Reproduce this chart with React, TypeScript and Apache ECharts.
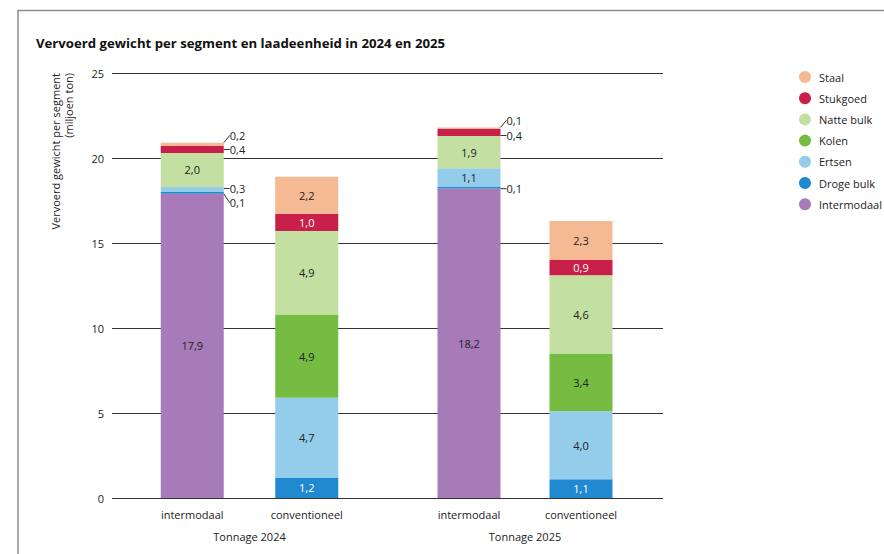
import React, { useEffect, useRef } from "react";
import * as echarts from "echarts";

// ---------- data ----------
const title = "Vervoerd gewicht per segment en laadeenheid in 2024 en 2025";
const yAxisName = "Vervoerd gewicht per segment\n(miljoen ton)";
const groups = ["Tonnage 2024", "Tonnage 2025"];
const barCategories = ["intermodaal", "conventioneel"];
// columns: 2024 intermodaal, 2024 conventioneel, 2025 intermodaal, 2025 conventioneel
const intermodaal = [17.9, 0, 18.2, 0];
const drogeBulk = [0.1, 1.2, 0.1, 1.1];
const ertsen = [0.3, 4.7, 1.1, 4.0];
const kolen = [0, 4.9, 0, 3.4];
const natteBulk = [2.0, 4.9, 1.9, 4.6];
const stukgoed = [0.4, 1.0, 0.4, 0.9];
const staal = [0.2, 2.2, 0.1, 2.3];
const yMin = 0;
const yMax = 25;
const yInterval = 5;

// stacking order bottom -> top
const segments: { name: string; values: number[] }[] = [
  { name: "Intermodaal", values: intermodaal },
  { name: "Droge bulk", values: drogeBulk },
  { name: "Ertsen", values: ertsen },
  { name: "Kolen", values: kolen },
  { name: "Natte bulk", values: natteBulk },
  { name: "Stukgoed", values: stukgoed },
  { name: "Staal", values: staal },
];

// ---------- styles / layout ----------
const COLORS: Record<string, string> = {
  Intermodaal: "#a67bb7",
  "Droge bulk": "#2189cf",
  Ertsen: "#93cdea",
  Kolen: "#76bc43",
  "Natte bulk": "#c4dfa2",
  Stukgoed: "#c9204b",
  Staal: "#f5b993",
};
const WHITE_LABEL = new Set(["Stukgoed", "Droge bulk"]);
// vertical shift of outside labels (per column)
const OUT_DY: Record<string, Record<number, number>> = {
  Staal: { 0: -9, 2: -8 },
  Stukgoed: { 0: 0, 2: 3 },
  Ertsen: { 0: -1 },
  "Droge bulk": { 0: 10, 2: 1 },
};
const FONT = "Open Sans";
const TOP = 73;
const BOTTOM = 56;
const GRID_GROUPS = [
  { left: 135, width: 229 },
  { left: 413, width: 224 },
];

const fmt = (v: number) => v.toFixed(1).replace(".", ",");

export default function App() {
  const ref = useRef<HTMLDivElement>(null);
  useEffect(() => {
    const chart = echarts.init(ref.current!, null, { renderer: "svg" });

    const series: any[] = [];
    groups.forEach((_, g) => {
      segments.forEach((seg) => {
        const cols = barCategories.map((__, i) => g * 2 + i);
        series.push({
          name: seg.name,
          type: "bar",
          stack: "g" + g,
          xAxisIndex: g,
          yAxisIndex: g,
          barWidth: 63,
          itemStyle: { color: COLORS[seg.name] },
          labelLine: { show: true, lineStyle: { color: "#333", width: 1 } },
          data: cols.map((c) => {
            const v = seg.values[c];
            let label: any;
            if (v === 0) label = { show: false };
            else if (v < 0.5)
              label = {
                show: true,
                position: "right",
                distance: 0,
                color: "#222",
                lineHeight: 11,
              };
            else
              label = {
                show: true,
                position: "inside",
                color: WHITE_LABEL.has(seg.name) ? "#fff" : "#222",
              };
            return { value: v, label };
          }),
          label: {
            fontSize: 11,
            fontFamily: FONT,
            formatter: (p: any) => fmt(p.value),
          },
          labelLayout: (p: any) => {
            const c = g * 2 + p.dataIndex;
            const v = seg.values[c];
            if (v > 0 && v < 0.5) {
              const dy = (OUT_DY[seg.name] && OUT_DY[seg.name][c]) || 0;
              return { dx: 6, dy };
            }
            return {};
          },
        });
      });
    });

    const option: any = {
      animation: false,
      textStyle: { fontFamily: FONT },
      title: {
        text: title,
        left: 31,
        top: 31,
        textStyle: { fontSize: 13.2, fontWeight: "bold", color: "#111", fontFamily: FONT },
      },
      legend: {
        orient: "vertical",
        left: 794,
        top: 66,
        icon: "circle",
        itemWidth: 12,
        itemHeight: 12,
        itemGap: 9.2,
        data: segments.map((s) => s.name).reverse(),
        textStyle: { fontSize: 11, color: "#222", fontFamily: FONT, padding: [0, 0, 0, 3] },
      },
      grid: [
        ...GRID_GROUPS.map((gg) => ({ left: gg.left, width: gg.width, top: TOP, bottom: BOTTOM })),
        { left: 112, width: 551, top: TOP, bottom: BOTTOM },
      ],
      xAxis: [
        ...groups.map((gname, g) => ({
          type: "category",
          gridIndex: g,
          data: barCategories,
          axisLine: { show: false },
          axisTick: { show: false },
          axisLabel: { margin: 11, fontSize: 11, color: "#222", fontFamily: FONT },
          name: gname,
          nameLocation: "middle",
          nameGap: 33,
          nameTextStyle: { fontSize: 11, color: "#222", fontFamily: FONT },
        })),
        { type: "value", gridIndex: 2, show: false, min: 0, max: 1 },
      ],
      yAxis: [
        ...groups.map((_, g) => ({
          type: "value",
          gridIndex: g,
          min: yMin,
          max: yMax,
          show: false,
        })),
        {
          type: "value",
          gridIndex: 2,
          min: yMin,
          max: yMax,
          interval: yInterval,
          axisLine: { show: false },
          axisTick: { show: false },
          splitLine: { show: true, lineStyle: { color: "#333", width: 1 } },
          axisLabel: { fontSize: 11, color: "#222", margin: 8, fontFamily: FONT },
        },
      ],
      graphic: [
        {
          type: "polyline",
          shape: { points: [[18, 600], [18, 10.5], [900, 10.5]] },
          style: { stroke: "#8c8c8c", lineWidth: 1.5, fill: null },
          silent: true,
        },
        {
          type: "text",
          x: 62,
          y: 73,
          rotation: Math.PI / 2,
          style: {
            text: yAxisName,
            align: "right",
            verticalAlign: "middle",
            fontSize: 11,
            lineHeight: 13,
            fill: "#222",
            fontFamily: FONT,
          },
          silent: true,
        },
      ],
      series,
    };

    chart.setOption(option);
    return () => chart.dispose();
  }, []);
  return (
    <div
      ref={ref}
      style={{ position: "absolute", left: 0, top: 0, width: 884, height: 554 }}
    />
  );
}
